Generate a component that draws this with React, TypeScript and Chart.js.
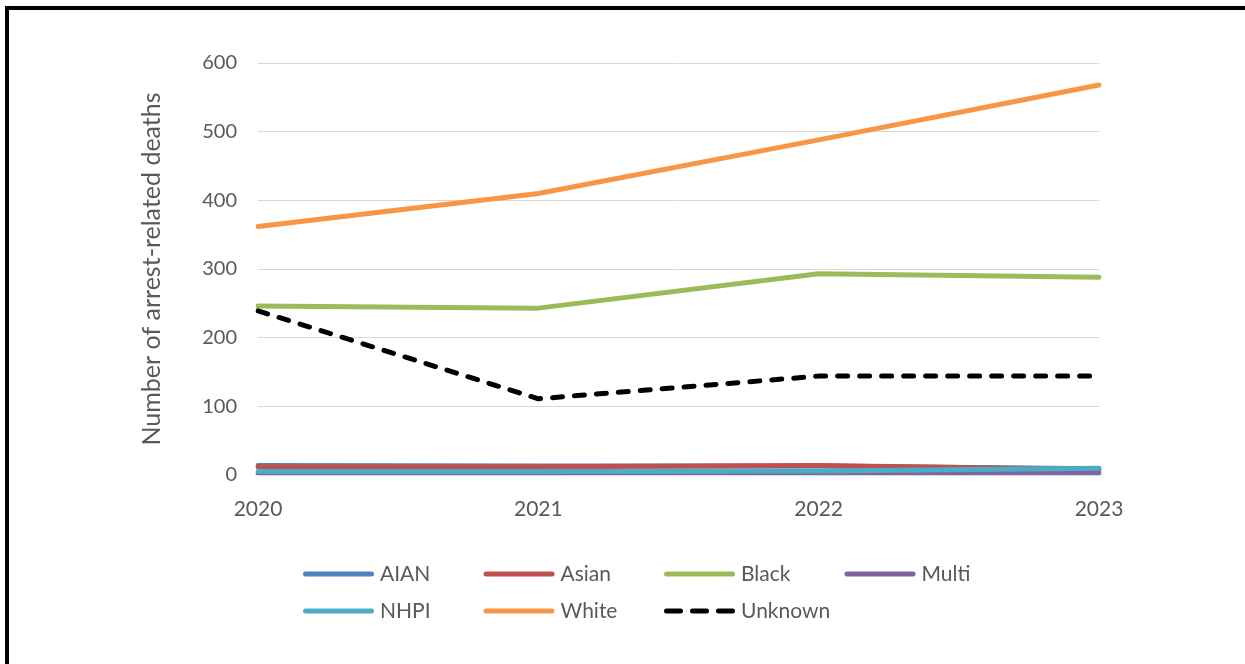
import React, { useEffect, useRef } from "react";
import { Chart, registerables } from "chart.js";

Chart.register(...registerables);

const years = ["2020", "2021", "2022", "2023"];
const seriesNames = ["AIAN", "Asian", "Black", "Multi", "NHPI", "White", "Unknown"];
const aian = [14, 13, 13, 9];
const asian = [12, 12, 14, 8];
const black = [246, 243, 293, 288];
const multi = [2, 0, 2, 3];
const nhpi = [5, 5, 6, 10];
const white = [362, 410, 488, 568];
const unknown = [239, 111, 144, 144];
const yTicks = [0, 100, 200, 300, 400, 500, 600];

const seriesValues = [aian, asian, black, multi, nhpi, white, unknown];
const seriesColors = ["#4F81BD", "#C0504D", "#9BBB59", "#8064A2", "#4BACC6", "#F79646", "#000000"];

const FONT = "Lato";
const TEXT = "#595959";

const framePlugin = {
  id: "frame",
  beforeDraw(chart: any) {
    const ctx = chart.ctx;
    ctx.save();
    ctx.fillStyle = "#ffffff";
    ctx.fillRect(0, 0, chart.width, chart.height);
    ctx.fillStyle = "#000000";
    ctx.fillRect(5, 6, 4, chart.height);
    ctx.fillRect(5, 6, chart.width, 4);
    ctx.restore();
  },
};

const legendPlugin = {
  id: "customLegend",
  afterDraw(chart: any) {
    const ctx = chart.ctx;
    ctx.save();
    chart.data.datasets.forEach((ds: any, i: number) => {
      const col = i % 4;
      const row = Math.floor(i / 4);
      const x0 = 303 + col * 180.5;
      const y = 574 + row * 37;
      const dashed = ds.borderDash && ds.borderDash.length > 0;
      ctx.beginPath();
      ctx.strokeStyle = ds.borderColor;
      ctx.lineWidth = 5;
      ctx.lineCap = "round";
      ctx.setLineDash(dashed ? [14, 12] : []);
      ctx.moveTo(x0 + 2.5, y);
      ctx.lineTo(x0 + 68.5, y);
      ctx.stroke();
      ctx.setLineDash([]);
      ctx.fillStyle = TEXT;
      ctx.font = `21px ${FONT}`;
      ctx.textBaseline = "middle";
      ctx.textAlign = "left";
      ctx.fillText(ds.label, x0 + 77, y);
    });
    ctx.restore();
  },
};

export default function App() {
  const ref = useRef<HTMLCanvasElement>(null);
  useEffect(() => {
    if (!ref.current) return;
    const n = seriesNames.length;
    const chart = new Chart(ref.current, {
      type: "line",
      data: {
        labels: years,
        datasets: seriesNames.map((name, i) => ({
          label: name,
          data: seriesValues[i],
          borderColor: seriesColors[i],
          backgroundColor: seriesColors[i],
          borderWidth: 5,
          borderDash: name === "Unknown" ? [10, 12] : [],
          borderCapStyle: "round",
          borderJoinStyle: "round",
          pointRadius: 0,
          pointHoverRadius: 0,
          tension: 0,
          fill: false,
          order: n - i,
        })),
      },
      options: {
        animation: false,
        responsive: true,
        maintainAspectRatio: false,
        layout: { padding: { left: 130, right: 146, top: 63, bottom: 129 } },
        plugins: {
          legend: { display: false },
          tooltip: { enabled: false },
        },
        scales: {
          x: {
            offset: false,
            grid: { display: false, drawTicks: false },
            border: { display: true, color: "#d9d9d9" },
            ticks: {
              color: TEXT,
              font: { family: FONT, size: 21 },
              padding: 22,
              maxRotation: 0,
            },
            afterFit: (scale: any) => {
              scale.height = 60;
            },
          },
          y: {
            min: 0,
            max: 600,
            afterBuildTicks: (scale: any) => {
              scale.ticks = yTicks.map((v) => ({ value: v }));
            },
            grid: { color: "#d9d9d9", lineWidth: 1, drawTicks: false },
            border: { display: false },
            ticks: {
              color: TEXT,
              font: { family: FONT, size: 20 },
              padding: 21,
            },
            title: {
              display: true,
              text: "Number of arrest-related deaths",
              color: TEXT,
              font: { family: FONT, size: 25 },
              padding: { top: 7, bottom: 0 },
            },
            afterFit: (scale: any) => {
              scale.width = 128;
            },
          },
        },
      },
      plugins: [framePlugin, legendPlugin],
    });
    return () => chart.destroy();
  }, []);
  return (
    <div style={{ position: "fixed", left: 0, top: 0, width: 1245, height: 664, background: "#fff" }}>
      <canvas ref={ref} />
    </div>
  );
}
